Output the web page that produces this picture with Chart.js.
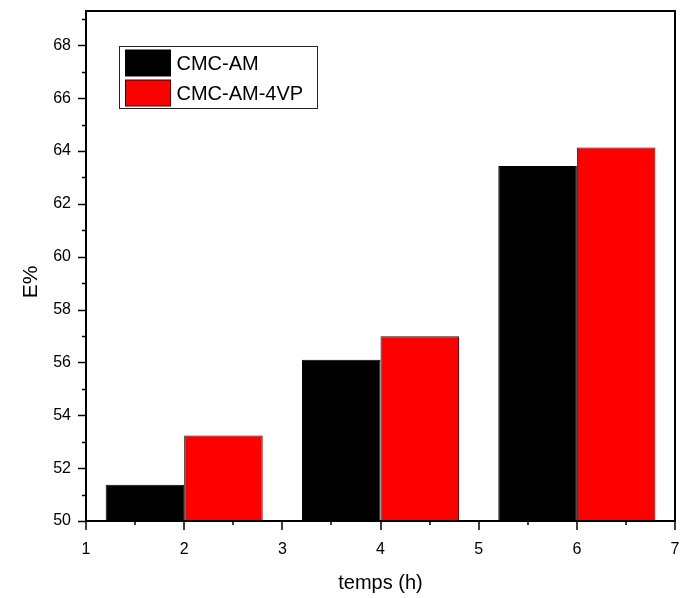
<!DOCTYPE html>
<html>
<head>
<meta charset="utf-8">
<script src="https://cdn.jsdelivr.net/npm/chart.js@4/dist/chart.umd.min.js"></script>
<style>
  html, body { margin: 0; padding: 0; background: #fff; }
  #wrap { width: 680px; height: 598px; }
</style>
</head>
<body>
<div id="wrap"><canvas id="chart"></canvas></div>
<script>
var hours = [2, 4, 6];
var cmcAm = [51.37, 56.10, 63.43];
var cmcAm4vp = [53.24, 56.99, 64.13];
var seriesNames = ["CMC-AM", "CMC-AM-4VP"];
var xTitle = "temps (h)";
var yTitle = "E%";

var FONT = "Arial, 'Liberation Sans', sans-serif";

function points(xs, ys) {
  var out = [];
  for (var i = 0; i < xs.length; i++) out.push({ x: xs[i], y: ys[i] });
  return out;
}

// frame, ticks (major + minor), axis titles and the boxed legend
var frame = {
  id: "frame",
  afterDraw: function(chart) {
    var ctx = chart.ctx;
    var a = chart.chartArea;
    var xs = chart.scales.x;
    var ys = chart.scales.y;
    var v, p, len;

    ctx.save();
    ctx.strokeStyle = "#000";
    ctx.lineWidth = 2;
    ctx.strokeRect(a.left, a.top, a.right - a.left, a.bottom - a.top);

    ctx.lineWidth = 1.5;
    ctx.beginPath();
    for (v = 50; v <= 69; v++) {
      p = Math.round(ys.getPixelForValue(v)) + 0.5;
      len = (v % 2 === 0) ? 8 : 4;
      ctx.moveTo(a.left, p);
      ctx.lineTo(a.left - len, p);
    }
    for (v = 1; v <= 7; v += 0.5) {
      p = Math.round(xs.getPixelForValue(v));
      len = (v % 1 === 0) ? 9 : 4;
      ctx.moveTo(p, a.bottom);
      ctx.lineTo(p, a.bottom + len);
    }
    ctx.stroke();

    // axis titles
    ctx.fillStyle = "#000";
    ctx.font = "20px " + FONT;
    ctx.textAlign = "center";
    ctx.textBaseline = "middle";
    ctx.fillText(xTitle, (a.left + a.right) / 2, 583);
    ctx.save();
    ctx.translate(31, 282);
    ctx.rotate(-Math.PI / 2);
    ctx.font = "21px " + FONT;
    ctx.fillText(yTitle, 0, 0);
    ctx.restore();

    // legend
    var lx = 119.5, ly = 46.5, lw = 198, lh = 62;
    ctx.lineWidth = 1;
    ctx.strokeStyle = "#222";
    ctx.strokeRect(lx, ly, lw, lh);
    var ds = chart.data.datasets;
    ctx.textAlign = "left";
    ctx.font = "20px " + FONT;
    for (var i = 0; i < ds.length; i++) {
      var ry = ly + 3.5 + i * 30;
      ctx.fillStyle = ds[i].backgroundColor;
      ctx.fillRect(lx + 6, ry, 45, 26);
      ctx.strokeStyle = ds[i].borderColor;
      ctx.strokeRect(lx + 6, ry, 45, 26);
      ctx.fillStyle = "#000";
      ctx.fillText(ds[i].label, lx + 57, ry + 14);
    }
    ctx.restore();
  }
};

function noEdgePadding(s) {
  s.paddingTop = 0;
  s.paddingBottom = 0;
  s.paddingLeft = 0;
  s.paddingRight = 0;
}

new Chart(document.getElementById("chart"), {
  type: "bar",
  data: {
    datasets: [
      {
        label: seriesNames[0],
        data: points(hours, cmcAm),
        backgroundColor: "#000000",
        borderColor: "#000000",
        borderWidth: 1,
        base: 50
      },
      {
        label: seriesNames[1],
        data: points(hours, cmcAm4vp),
        backgroundColor: "#ff0000",
        borderColor: "#3a0000",
        borderWidth: 1,
        base: 50
      }
    ]
  },
  options: {
    responsive: true,
    maintainAspectRatio: false,
    animation: false,
    // ruler step is one x unit (the ticks), so 1.6 gives 0.8-wide bars
    categoryPercentage: 1.6,
    barPercentage: 1.0,
    layout: { padding: { left: 0, right: 5, top: 11, bottom: 0 } },
    plugins: {
      legend: { display: false },
      tooltip: { enabled: false }
    },
    scales: {
      x: {
        type: "linear",
        offset: false,
        min: 1,
        max: 7,
        grid: { display: false },
        border: { display: false },
        ticks: {
          stepSize: 1,
          padding: 11,
          color: "#000",
          font: { family: FONT, size: 16 }
        },
        afterFit: function(s) { s.height = 77; noEdgePadding(s); }
      },
      y: {
        min: 50,
        max: 69.3,
        grid: { display: false },
        border: { display: false },
        ticks: {
          stepSize: 2,
          padding: 7,
          color: "#000",
          font: { family: FONT, size: 16 }
        },
        afterBuildTicks: function(s) {
          s.ticks = s.ticks.filter(function(t) { return t.value % 2 === 0; });
        },
        afterFit: function(s) { s.width = 86; noEdgePadding(s); }
      }
    }
  },
  plugins: [frame]
});
</script>
</body>
</html>
